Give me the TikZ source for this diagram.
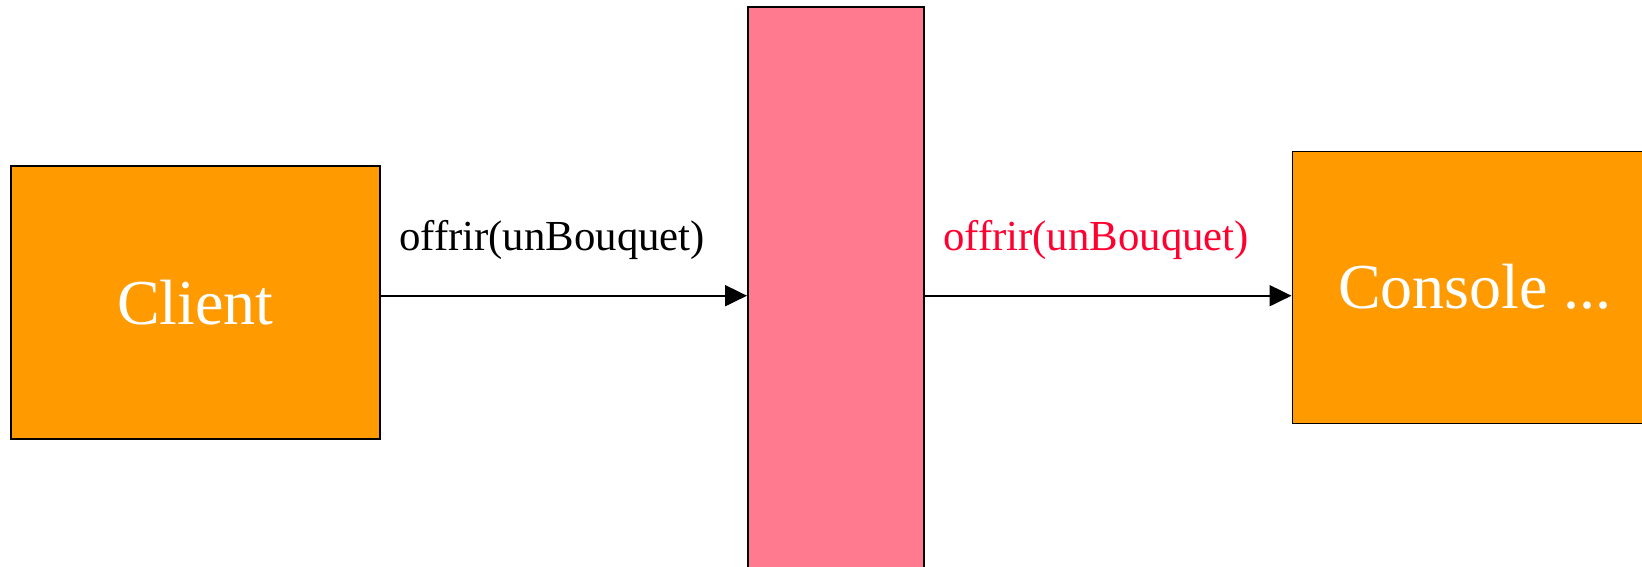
\documentclass[tikz,border=0pt]{standalone}
\usepackage{fontspec}
\setmainfont{Liberation Serif}[Ligatures=NoCommon]
\usetikzlibrary{arrows.meta}
\definecolor{boxorange}{HTML}{FF9A00}
\definecolor{barpink}{HTML}{FF7A8F}
\definecolor{msgred}{HTML}{FF0030}
\tikzset{
  actorbox/.style={draw=black, fill=boxorange, text=white, inner sep=0pt, font=\fontsize{64}{70}\selectfont},
  msgarrow/.style={draw=black, line width=2pt, -{Triangle[length=22pt,width=21pt]}},
  msglabel/.style={anchor=base west, inner sep=0pt, font=\fontsize{42.8}{48}\selectfont},
}
\begin{document}
\begin{tikzpicture}[x=1pt,y=-1pt]
\useasboundingbox (0,0) rectangle (1642,566);
\clip (0,0) rectangle (1642,566);
\node[actorbox, line width=2pt, minimum width=369pt, minimum height=273pt] (client) at (195.5,302.5) {Client};
\node[draw=black, line width=2pt, fill=barpink, minimum width=176pt, minimum height=580pt, inner sep=0pt] (bar) at (836,297) {};
\node[actorbox, line width=1pt, minimum width=366pt, minimum height=272pt] (console) at (1475,287) {Console ...};
\coordinate (a1) at (client.east |- 0,295.7);
\coordinate (a2) at (bar.west |- 0,295.7);
\coordinate (b1) at (bar.east |- 0,295.7);
\coordinate (b2) at (console.west |- 0,295.7);
\draw[msgarrow] (a1) -- (a2);
\draw[msgarrow] (b1) -- (b2);
\node[msglabel, text=black] (l1) at (399,250) {offrir(unBouquet)};
\node[msglabel, text=msgred] (l2) at (943,250) {offrir(unBouquet)};
\end{tikzpicture}
\end{document}
